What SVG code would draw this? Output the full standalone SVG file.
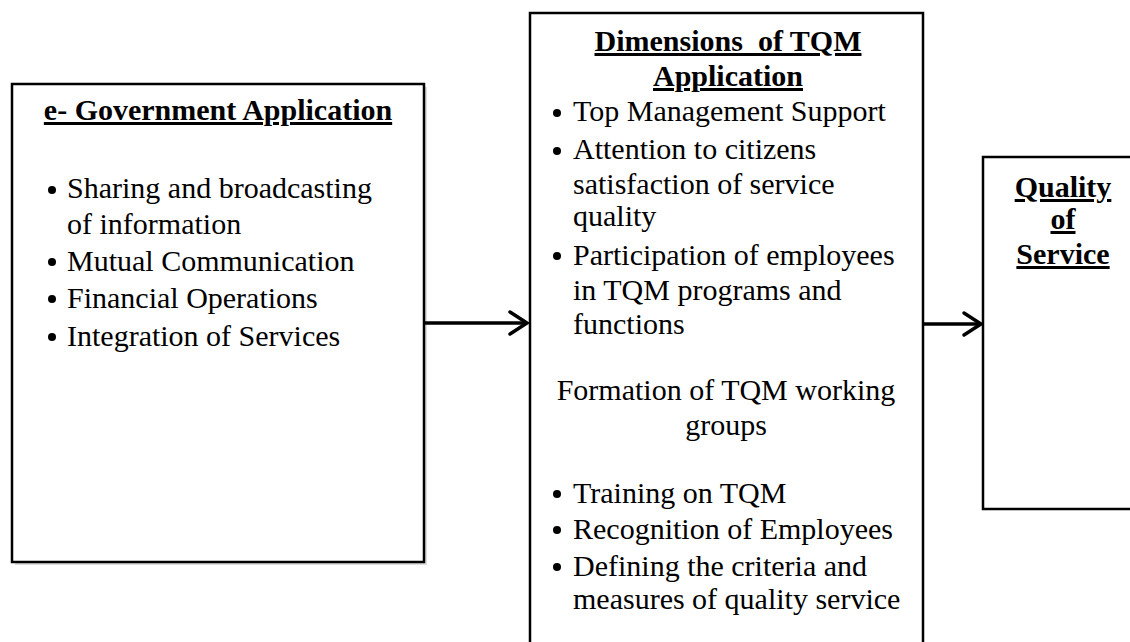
<svg xmlns="http://www.w3.org/2000/svg" width="1130" height="642" viewBox="0 0 1130 642">
<defs>
<style>
.box{fill:#fff;stroke:#000;stroke-width:2.5}
.t{font-family:"Liberation Serif","Times New Roman",serif;font-size:30px;fill:#000}
.h{font-family:"Liberation Serif","Times New Roman",serif;font-size:30px;font-weight:bold;fill:#000;text-decoration:underline;white-space:pre}
.c{text-anchor:middle}
.conn{stroke:#000;stroke-width:3.5;fill:none}
.head{stroke:#000;stroke-width:3.5;fill:none;stroke-linecap:round;stroke-linejoin:miter}
</style>
</defs>
<rect width="1130" height="642" fill="#fff"/>
<g id="egov">
<rect x="15" y="87" width="412" height="478" fill="#c8c8c8" stroke="none" opacity="0.6"/>
<rect class="box" x="12" y="84" width="412" height="478" stroke-width="3"/>
<text class="h c" x="218" y="120">e- Government Application</text>
<g>
<circle cx="52" cy="190" r="4"/><circle cx="52" cy="262" r="4"/><circle cx="52" cy="299" r="4"/><circle cx="52" cy="337" r="4"/>
</g>
<text class="t" x="67" y="198">Sharing and broadcasting</text>
<text class="t" x="67" y="234">of information</text>
<text class="t" x="67" y="271">Mutual Communication</text>
<text class="t" x="67" y="308">Financial Operations</text>
<text class="t" x="67" y="346">Integration of Services</text>
</g>
<g id="tqm">
<path class="box" d="M530,650 V13 H923 V650"/>
<text class="h c" x="728" y="51">Dimensions  of TQM</text>
<text class="h c" x="728" y="86">Application</text>
<g>
<circle cx="557" cy="113" r="4"/><circle cx="557" cy="151" r="4"/><circle cx="557" cy="256" r="4"/>
<circle cx="557" cy="494" r="4"/><circle cx="557" cy="530" r="4"/><circle cx="557" cy="567" r="4"/>
</g>
<text class="t" x="573" y="121">Top Management Support</text>
<text class="t" x="573" y="159">Attention to citizens</text>
<text class="t" x="573" y="194">satisfaction of service</text>
<text class="t" x="573" y="226">quality</text>
<text class="t" x="573" y="265">Participation of employees</text>
<text class="t" x="573" y="300">in TQM programs and</text>
<text class="t" x="573" y="334">functions</text>
<text class="t c" x="726" y="400">Formation of TQM working</text>
<text class="t c" x="726" y="435">groups</text>
<text class="t" x="573" y="503">Training on TQM</text>
<text class="t" x="573" y="539">Recognition of Employees</text>
<text class="t" x="573" y="576">Defining the criteria and</text>
<text class="t" x="573" y="609">measures of quality service</text>
</g>
<g id="quality">
<rect class="box" x="983" y="157" width="160" height="352"/>
<text class="h c" x="1063" y="197">Quality</text>
<text class="h c" x="1063" y="229">of</text>
<text class="h c" x="1063" y="264">Service</text>
</g>
<g id="connectors">
<line class="conn" x1="425" y1="323" x2="526" y2="323"/>
<polyline class="head" points="510,312 527,323 510,334"/>
<line class="conn" x1="924" y1="324" x2="980" y2="324"/>
<polyline class="head" points="964,313 981,324 964,335"/>
</g>
</svg>
